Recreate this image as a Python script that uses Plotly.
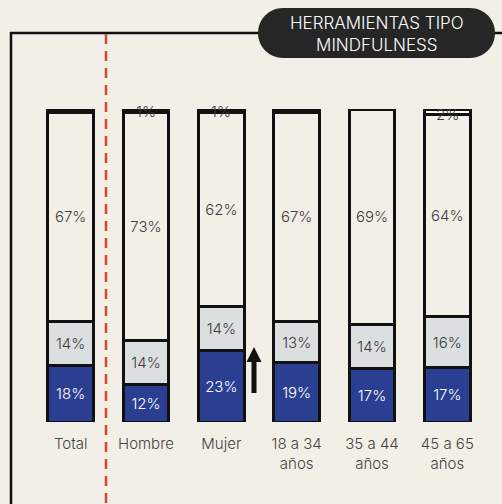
import plotly.graph_objects as go

categories = ["Total", "Hombre", "Mujer", "18 a 34<br>años", "35 a 44<br>años", "45 a 65<br>años"]
mucho = [18, 12, 23, 19, 17, 17.4]
algo = [14, 14, 14, 13, 14, 16.3]
nada = [67, 73, 62, 67, 69, 64.4]
nsnc = [1, 1, 1, 1, None, None]
otros = [None, None, None, None, None, 1.9]
top_labels = ["", "1%", "1%", "", "", "2%"]
title_text = "HERRAMIENTAS TIPO<br>MINDFULNESS"

BG = "#F2EFE7"
BLUE = "#2A3E92"
GRAY = "#DCDFE0"
INK = "#111111"
TXT = "#3d3d3d"
FONT = "Inter"
WT = 300

W, H = 502, 504
L, R, T, B = 33, 17, 109, 82


def px(x):
    return (x - L) / (W - L - R)


def py(y):
    return (H - B - y) / (H - T - B)


def lbl(vals):
    return [f"{round(v)}%" if v else "" for v in vals]


fig = go.Figure()
series = [
    (mucho, BLUE, "white", lbl(mucho)),
    (algo, GRAY, TXT, lbl(algo)),
    (nada, BG, TXT, lbl(nada)),
    (nsnc, INK, TXT, None),
    (otros, "#FFFFFF", TXT, None),
]
for vals, col, tcol, txt in series:
    fig.add_trace(go.Bar(
        x=categories, y=vals,
        marker=dict(color=col, line=dict(color=INK, width=3)),
        text=txt, textposition="inside" if txt else "none",
        insidetextanchor="middle", textangle=0,
        textfont=dict(family=FONT, size=15, color=tcol, weight=WT),
        hoverinfo="skip", showlegend=False,
    ))

cum = [m + a + n for m, a, n in zip(mucho, algo, nada)]
for i, t in enumerate(top_labels):
    if t:
        fig.add_annotation(x=categories[i], y=cum[i] + 0.2, text=t, showarrow=False,
                           font=dict(family=FONT, size=15, color=TXT, weight=WT),
                           xref="x", yref="y", yanchor="middle")


def P(x, y):
    return f"{px(x):.5f},{py(y):.5f}"


def path(points):
    return "M " + " L ".join(P(x, y) for x, y in points) + " Z"


x0, x1, y0, y1 = 258, 495, 8, 58
r = (y1 - y0) / 2
k = 0.5523 * r
pill = (f"M {P(x0 + r, y0)} L {P(x1 - r, y0)} "
        f"C {P(x1 - r + k, y0)} {P(x1, y0 + r - k)} {P(x1, y0 + r)} "
        f"C {P(x1, y0 + r + k)} {P(x1 - r + k, y1)} {P(x1 - r, y1)} "
        f"L {P(x0 + r, y1)} "
        f"C {P(x0 + r - k, y1)} {P(x0, y0 + r + k)} {P(x0, y0 + r)} "
        f"C {P(x0, y0 + r - k)} {P(x0 + r - k, y0)} {P(x0 + r, y0)} Z")

shapes = [
    dict(type="line", xref="paper", yref="paper", x0=px(10), x1=px(504), y0=py(33), y1=py(33),
         line=dict(color=INK, width=2.5)),
    dict(type="line", xref="paper", yref="paper", x0=px(11), x1=px(11), y0=py(32), y1=py(506),
         line=dict(color=INK, width=2.5)),
    dict(type="line", xref="paper", yref="paper", x0=px(106), x1=px(106), y0=py(34), y1=py(506),
         line=dict(color="#D9443F", width=2.5, dash="10px,7px")),
    dict(type="path", xref="paper", yref="paper", path=pill, fillcolor="#262626",
         line=dict(width=0)),
    dict(type="path", xref="paper", yref="paper",
         path=path([(251.5, 393), (251.5, 362), (246.5, 362), (254, 347), (261.5, 362),
                    (256.5, 362), (256.5, 393)]),
         fillcolor=INK, line=dict(width=0)),
]

fig.add_annotation(x=px(376.5), y=py(34), xref="paper", yref="paper", text=title_text,
                   showarrow=False, xanchor="center", yanchor="middle",
                   font=dict(family=FONT, size=17, color="white", weight=WT))

fig.update_layout(
    width=W, height=H, margin=dict(l=L, r=R, t=T, b=B, pad=0),
    paper_bgcolor=BG, plot_bgcolor=BG,
    barmode="stack", bargap=0.39,
    shapes=shapes,
    xaxis=dict(type="category", range=[-0.5, 5.5], showgrid=False, zeroline=False,
               showline=False, ticks="",
               tickfont=dict(family=FONT, size=15, color="#444444", weight=WT),
               ticklabelstandoff=11),
    yaxis=dict(range=[0, 100], visible=False, fixedrange=True),
    uniformtext=dict(minsize=15, mode="show"),
    font=dict(family=FONT),
)

fig.write_html("out.html")
